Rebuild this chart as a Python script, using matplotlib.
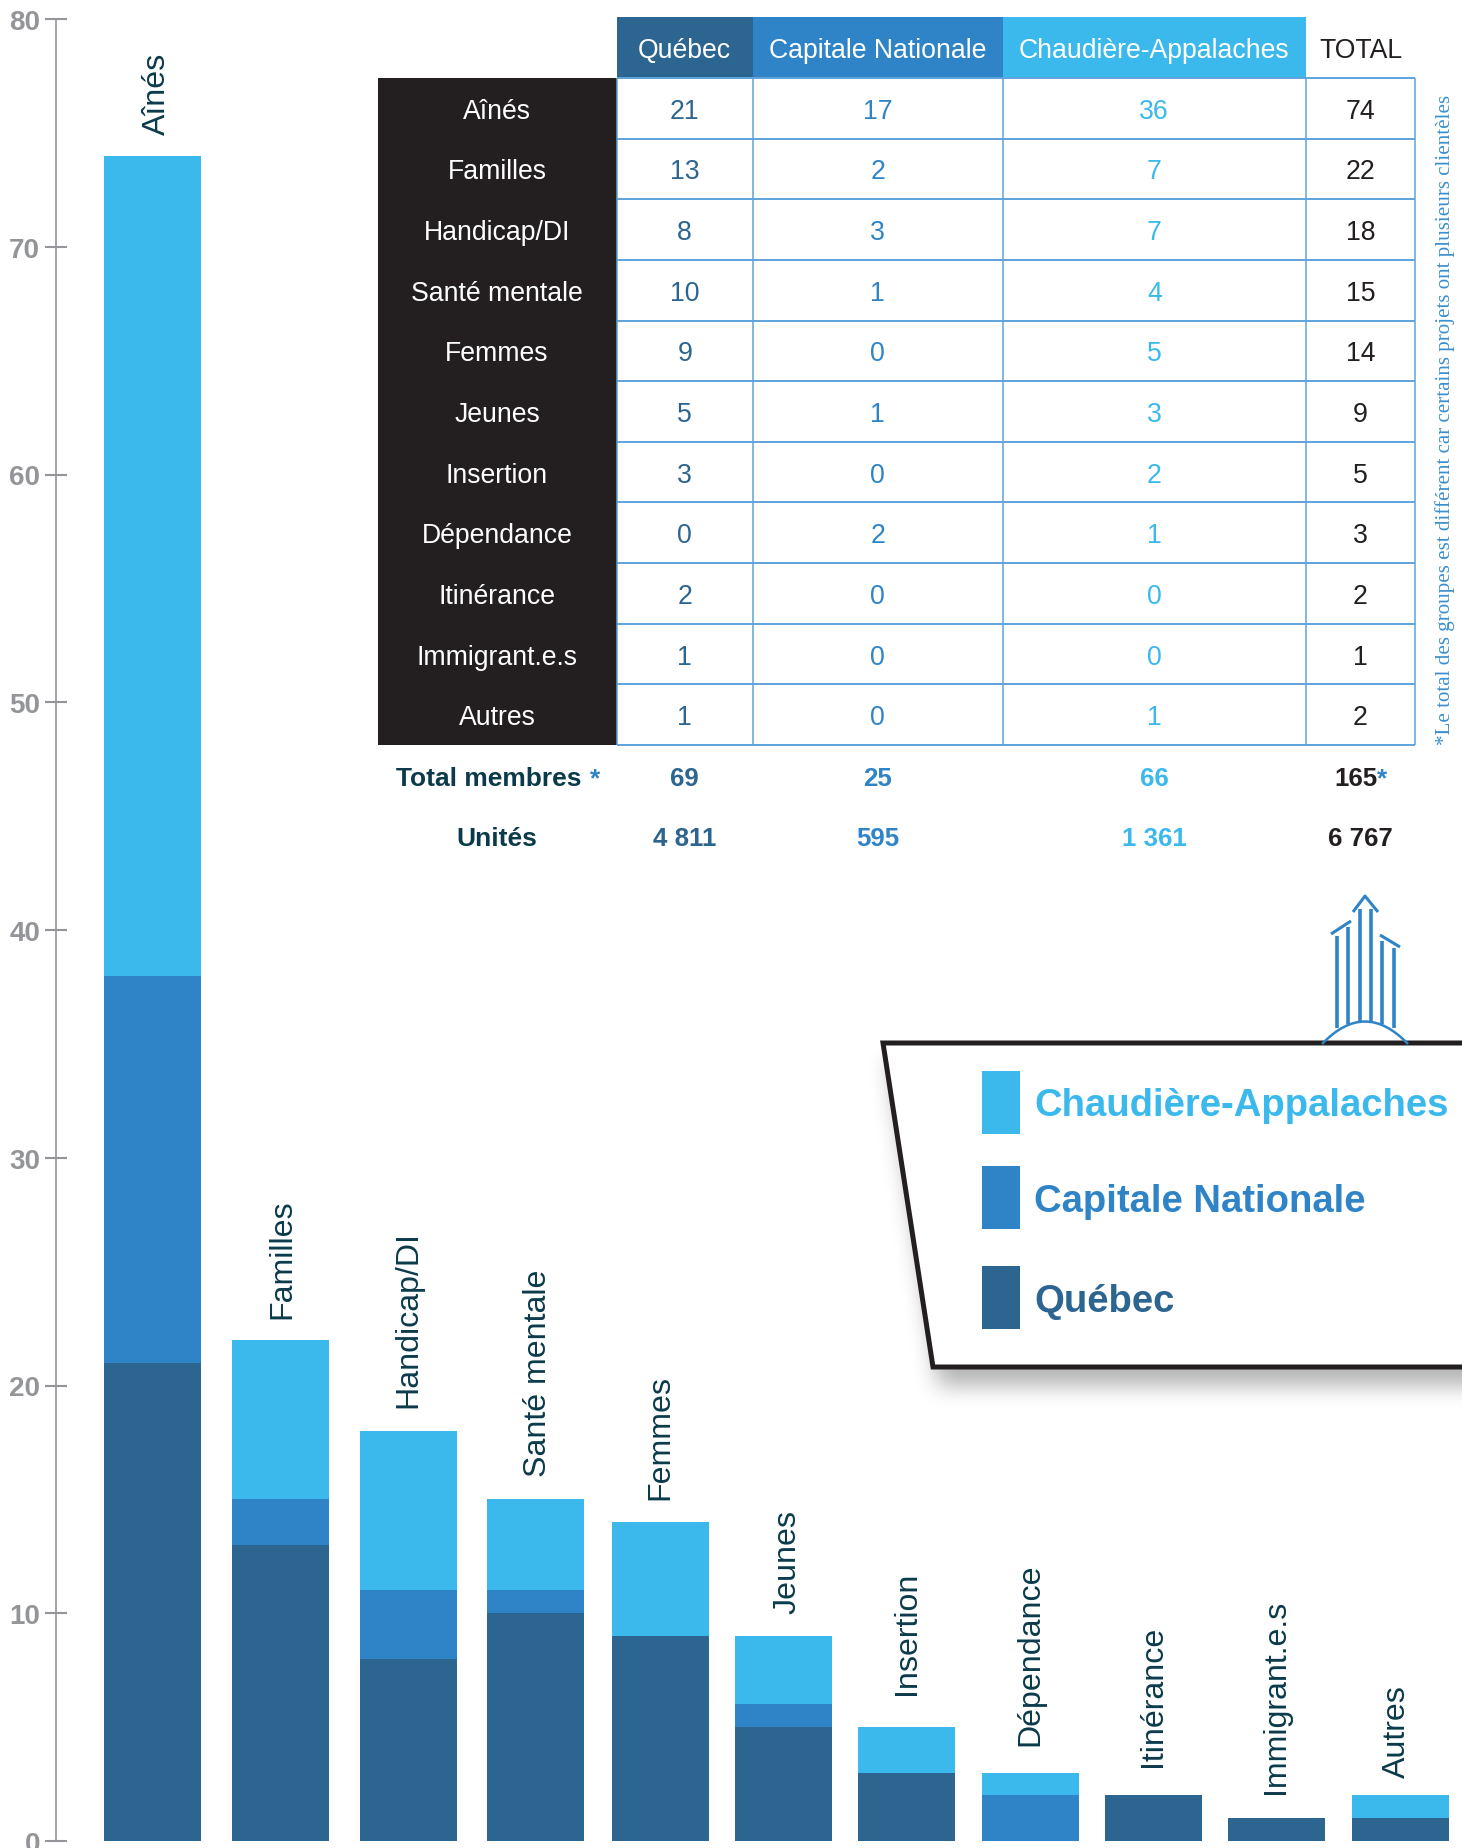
import matplotlib
matplotlib.use("Agg")
from matplotlib import pyplot as plt
from matplotlib.patches import Rectangle, Polygon, PathPatch
from matplotlib.path import Path
import numpy as np

plt.rcParams['font.family'] = ['Liberation Sans', 'DejaVu Sans']

# Data
categories = ['Aînés', 'Familles', 'Handicap/DI', 'Santé mentale', 'Femmes', 'Jeunes',
              'Insertion', 'Dépendance', 'Itinérance', 'Immigrant.e.s', 'Autres']
quebec = [21, 13, 8, 10, 9, 5, 3, 0, 2, 1, 1]
capitale = [17, 2, 3, 1, 0, 1, 0, 2, 0, 0, 0]
chaudiere = [36, 7, 7, 4, 5, 3, 2, 1, 0, 0, 1]
totals = [74, 22, 18, 15, 14, 9, 5, 3, 2, 1, 2]
regions = ['Québec', 'Capitale Nationale', 'Chaudière-Appalaches']
total_membres = ['69', '25', '66', '165']
unites = ['4 811', '595', '1 361', '6 767']
y_ticks = [0, 10, 20, 30, 40, 50, 60, 70, 80]

# Colors
dark = '#2c6590'
mid = '#2e84c6'
light = '#3bb9ec'
black = '#231f20'
teal = '#0b3b4a'
grey = '#939598'
grid = '#5ea3d9'
col_colors = [dark, mid, light, black]

W, H = 1462, 1849
fig = plt.figure(figsize=(W / 100, H / 100), dpi=100, facecolor='white')

# Bars, axis mapped so that 0 falls on pixel row 1842 and 80 on row 20
ax_left = 55.5
ax = fig.add_axes([ax_left / W, (H - 1842) / H, (W - ax_left) / W, (1842 - 20) / H])
ax.set_xlim(ax_left, W)
ax.set_ylim(0, 80)
ax.patch.set_alpha(0)

bar_x = [152.5, 280.5, 408.5, 535, 660, 783, 906, 1030, 1153, 1276, 1400]
bar_w = 97
bottom2 = [a + b for a, b in zip(quebec, capitale)]
ax.bar(bar_x, quebec, bar_w, color=dark, linewidth=0)
ax.bar(bar_x, capitale, bar_w, bottom=quebec, color=mid, linewidth=0)
ax.bar(bar_x, chaudiere, bar_w, bottom=bottom2, color=light, linewidth=0)

# label nudges in points, the original labels were placed by hand
label_dx = [3.5, 1, 0, 2, 0, 3, 1, 0, 0, 0, -2]
label_dy = [15.5, 15.5, 17, 16.5, 16.5, 16.5, 24, 20, 21.5, 18, 13]
for x, t, name, dx, dy in zip(bar_x, totals, categories, label_dx, label_dy):
    ax.annotate(name, (x, t), xytext=(dx, dy), textcoords='offset points', rotation=90,
                ha='center', va='bottom', fontsize=23.1, color=teal)

for s in ['top', 'right', 'bottom']:
    ax.spines[s].set_visible(False)
ax.spines['left'].set_color(grey)
ax.spines['left'].set_linewidth(1.2)
ax.set_xticks([])
ax.set_yticks(y_ticks)
ax.tick_params(axis='y', direction='inout', length=15.5, width=1.5, color=grey,
               labelcolor=grey, labelsize=20, pad=3.3)
for lab in ax.get_yticklabels():
    lab.set_fontweight('bold')

# Overlay in pixel coordinates for the table, legend box and icon
ov = fig.add_axes([0, 0, 1, 1], zorder=5)
ov.axis('off')

col_edges = [616.5, 753, 1002.5, 1306, 1415]
col_mid = [(a + b) / 2 for a, b in zip(col_edges[:-1], col_edges[1:])]
table_top = 79
row_h = (746 - 79) / len(categories)
fs = 19.2
base = 9.5

ov.add_patch(Rectangle((378, table_top), col_edges[0] - 378, row_h * len(categories), color=black, lw=0))
for i in range(3):
    ov.add_patch(Rectangle((col_edges[i], 18), col_edges[i + 1] - col_edges[i], table_top - 18,
                           color=col_colors[i], lw=0))
    ov.text(col_mid[i], 48.5 + base, regions[i], color='white', fontsize=fs, ha='center', va='baseline')
ov.text(col_mid[3], 48.5 + base, 'TOTAL', color=black, fontsize=fs, ha='center', va='baseline')

for i in range(len(categories) + 1):
    y = table_top + i * row_h
    ov.plot([col_edges[0], col_edges[-1]], [y, y], color=grid, lw=1.4, solid_capstyle='butt')
for x in col_edges:
    ov.plot([x, x], [table_top, 746], color=grid, lw=1.1, solid_capstyle='butt')

for i, name in enumerate(categories):
    yc = table_top + (i + 0.5) * row_h + base
    ov.text(497, yc, name, color='white', fontsize=fs, ha='center', va='baseline')
    for j, vals in enumerate([quebec, capitale, chaudiere, totals]):
        ov.text(col_mid[j], yc, str(vals[i]), color=col_colors[j], fontsize=fs, ha='center', va='baseline')

# Totals under the table
ov.text(582, 777 + base, 'Total membres', color=teal, fontsize=19, fontweight='bold', ha='right', va='baseline')
ov.text(590, 777 + base, '*', color=mid, fontsize=19, fontweight='bold', ha='left', va='baseline')
ov.text(497, 837 + base, 'Unités', color=teal, fontsize=19, fontweight='bold', ha='center', va='baseline')
for j in range(4):
    if j == 3:
        ov.text(1377, 777 + base, total_membres[j], color=black, fontsize=18.6, fontweight='bold', ha='right', va='baseline')
        ov.text(1377, 777 + base, '*', color=mid, fontsize=18.6, fontweight='bold', ha='left', va='baseline')
    else:
        ov.text(col_mid[j], 777 + base, total_membres[j], color=col_colors[j], fontsize=18.6, fontweight='bold', ha='center', va='baseline')
    ov.text(col_mid[j], 837 + base, unites[j], color=col_colors[j], fontsize=18.6, fontweight='bold', ha='center', va='baseline')

# Footnote
ov.text(1445, 745, '*Le total des groupes est différent car certains projets ont plusieurs clientèles',
        color='#3a8fcf', family='Liberation Serif', fontsize=15.15, rotation=90, ha='center', va='bottom')

# Building icon
icon_x = [1337, 1348, 1360, 1371, 1382, 1394]
icon_top = [937, 928, 910, 910, 942, 949]
icon_bot = [1029, 1025, 1023, 1023, 1025, 1029]
for x, t, b in zip(icon_x, icon_top, icon_bot):
    ov.plot([x, x], [t, b], color=mid, lw=2.6, solid_capstyle='butt')
ov.plot([1353, 1365, 1378], [913, 897, 913], color=mid, lw=2.2, solid_capstyle='butt')
ov.plot([1331, 1351], [935, 922], color=mid, lw=2.2, solid_capstyle='butt')
ov.plot([1380, 1400], [936, 948], color=mid, lw=2.2, solid_capstyle='butt')
ov.add_patch(PathPatch(Path([(1322, 1045), (1365, 1000), (1408, 1045)],
                            [Path.MOVETO, Path.CURVE3, Path.CURVE3]),
                       fill=False, edgecolor=mid, lw=1.8, zorder=3))

# Soft shadow under the legend box: a blurred copy of its shape
sx0, sy0, sx1, sy1 = 820, 1000, W, 1480
yy, xx = np.mgrid[sy0:sy1, sx0:sx1]
dx_s, dy_s = 5, 18
left_edge = 883 + dx_s + (yy - 1044 - dy_s) * (933 - 883) / (1368 - 1044)
mask = ((xx >= left_edge) & (yy >= 1044 + dy_s) & (yy <= 1368 + dy_s)).astype(float)
# keep the mask going past the right edge of the picture so the blur does not fade there
mask = np.pad(mask, ((0, 0), (0, 80)), mode='edge')
kernel = np.ones(21) / 21
for _ in range(3):
    mask = np.apply_along_axis(lambda r: np.convolve(r, kernel, mode='same'), 0, mask)
    mask = np.apply_along_axis(lambda r: np.convolve(r, kernel, mode='same'), 1, mask)
mask = mask[:, :sx1 - sx0]
shadow = np.zeros(mask.shape + (4,))
shadow[..., 3] = mask * 0.3
ov.imshow(shadow, extent=(sx0, sx1, sy1, sy0), aspect='auto', zorder=1, interpolation='bilinear')

ov.add_patch(Polygon([(883, 1044), (933, 1368), (W + 20, 1368), (W + 20, 1044)], closed=True,
                     facecolor='white', edgecolor=black, lw=3.6, joinstyle='miter', zorder=2))

legend_names = ['Chaudière-Appalaches', 'Capitale Nationale', 'Québec']
legend_colors = [light, mid, dark]
legend_y = [1072, 1167, 1267]
for name, c, y in zip(legend_names, legend_colors, legend_y):
    ov.add_patch(Rectangle((982, y), 38, 63, color=c, lw=0, zorder=3))
    ov.text(1034, y + 31.5 + 13, name, color=c, fontsize=27.5, fontweight='bold', ha='left', va='baseline', zorder=3)

ov.set_xlim(0, W)
ov.set_ylim(H, 0)

fig.savefig('out.png', dpi=100)
